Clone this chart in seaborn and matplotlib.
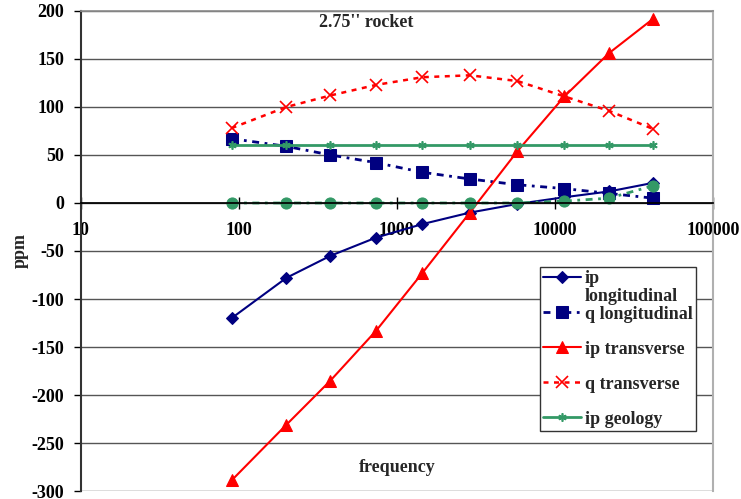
import numpy as np
import pandas as pd
import matplotlib
matplotlib.use('Agg')
import matplotlib.pyplot as plt
from matplotlib.transforms import IdentityTransform
import seaborn as sns

# frequencies (Hz) and responses (ppm)
freq = [90, 200, 380, 740, 1450, 2900, 5800, 11500, 22000, 42000]
ip_longitudinal = [-120, -78, -55, -36, -22, -10, -1, 6, 12, 21]
q_longitudinal = [67, 59, 50, 42, 32, 25, 19, 15, 10, 5]
ip_transverse = [-289, -231, -185, -133, -73, -10, 54, 111, 156, 192]
q_transverse = [78, 100, 112, 123, 131, 133, 127, 111, 96, 77]
ip_geology = [60, 60, 60, 60, 60, 60, 60, 60, 60, 60]
q_geology = [0, 0, 0, 0, 0, 0, 0, 2, 5, 18]

sns.set_theme(style='white')
plt.rcParams['font.family'] = ['Liberation Serif', 'DejaVu Serif']
plt.rcParams['font.weight'] = 'bold'
plt.rcParams['axes.unicode_minus'] = False

navy = '#000080'
red = '#FF0000'
green = '#339966'

fig, ax = plt.subplots(figsize=(7.41, 4.99), dpi=100)
fig.subplots_adjust(left=0.109, right=0.962, top=0.978, bottom=0.016)

# gridlines first, behind the series
for yv in range(-300, 201, 50):
    ax.axhline(yv, color='#555555', lw=1.0, zorder=0)

sns.lineplot(x=freq, y=ip_longitudinal, ax=ax, color=navy, lw=1.5, marker='D',
             markersize=6, markeredgecolor=navy, label='ip', estimator=None)
sns.lineplot(x=freq, y=q_longitudinal, ax=ax, color=navy, lw=2, marker='s',
             markersize=8, markeredgecolor=navy, dashes=(2.5, 2, 1, 2),
             label='q longitudinal', estimator=None)
sns.lineplot(x=freq, y=ip_transverse, ax=ax, color=red, lw=1.5, marker='^',
             markersize=8, markeredgecolor=red, label='ip transverse', estimator=None)
sns.lineplot(x=freq, y=q_transverse, ax=ax, color=red, lw=1.8, marker='x',
             markersize=9, markeredgewidth=1.2, markeredgecolor=red, dashes=(2, 2.2),
             label='q transverse', estimator=None)
sns.lineplot(x=freq, y=ip_geology, ax=ax, color=green, lw=2, marker=(6, 2, 0),
             markersize=6, markeredgewidth=1.2, markeredgecolor=green,
             label='ip geology', estimator=None)
sns.lineplot(x=freq, y=q_geology, ax=ax, color=green, lw=2, marker='o',
             markersize=8, markeredgecolor=green, dashes=(2.5, 2, 1, 2),
             label='_q geology', estimator=None)

ax.set_xscale('log')
ax.set_xlim(10, 100000)
ax.set_ylim(-300, 200)
ax.set_yticks(range(-300, 201, 50))
ax.set_xticks([10, 100, 1000, 10000, 100000])
ax.set_xticklabels(['10', '100', '1000', '10000', '100000'])
ax.xaxis.set_minor_locator(matplotlib.ticker.NullLocator())

ax.spines['bottom'].set_position(('data', 0))
ax.spines['bottom'].set_color('black')
ax.spines['left'].set_color('#333333')
ax.spines['left'].set_linewidth(1.5)
ax.spines['top'].set_color('#8c8c8c')
ax.spines['right'].set_color('#b0b0b0')
ax.spines['right'].set_linewidth(1.5)

ax.tick_params(axis='x', direction='inout', length=8, width=1, colors='black',
               labelsize=13, pad=10, bottom=True)
ax.tick_params(axis='y', direction='out', length=5, width=1, colors='black',
               labelsize=13, pad=7, left=True)
for lab in ax.get_xticklabels() + ax.get_yticklabels():
    lab.set_fontweight('bold')

ax.set_xlabel('')
ax.set_ylabel('ppm', fontsize=13, fontweight='bold')
ax.yaxis.set_label_coords(-0.083, 0.5)
ax.text(0.5, 0.05, 'frequency', transform=ax.transAxes, ha='center', va='center',
        fontsize=13, fontweight='bold')
ax.text(0.451, 0.977, "2.75'' rocket", transform=ax.transAxes, ha='center', va='center',
        fontsize=13, fontweight='bold')

leg = ax.legend(loc='upper left', bbox_to_anchor=(0.726, 0.467), frameon=True,
                fancybox=False, edgecolor='#333333', framealpha=1,
                prop={'size': 13, 'weight': 'bold'}, handlelength=2.1,
                labelspacing=1.0, borderpad=0.2, handletextpad=0.2,
                borderaxespad=0)
leg.get_frame().set_linewidth(1.0)

# the first legend label wraps onto a second line in the original
fig.canvas.draw()
bb = leg.get_texts()[0].get_window_extent()
fig.text(bb.x0, (bb.y0 + bb.y1) / 2 - 18, 'longitudinal', transform=IdentityTransform(),
         ha='left', va='center', fontsize=13, fontweight='bold', zorder=10)

fig.savefig('out.png', dpi=100)
